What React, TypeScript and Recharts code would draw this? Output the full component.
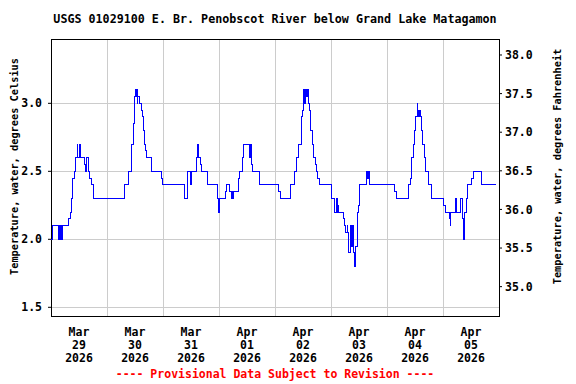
import React from "react";
import {
  CartesianGrid,
  Line,
  LineChart,
  ReferenceArea,
  XAxis,
  YAxis,
} from "recharts";

// change points of the 15-minute record, hours since Mar 29 00:00
const hours = [
  0, 0.6, 3.4, 3.7, 4.0, 4.3, 4.6, 4.9, 7.7, 8.2, 8.6, 9.0, 9.4, 9.9, 10.3, 10.7,
  11.2, 11.5, 12.0, 12.3, 12.6, 14.2, 14.6, 15.0, 15.9, 16.7, 17.2, 18.4,
  31.7, 33.4, 34.7, 35.2, 35.6, 36.0, 36.4, 36.7, 37.0, 37.2, 37.9, 38.7, 39.2,
  39.6, 40.0, 40.4, 40.9, 42.9, 47.2, 47.7,
  57.4, 58.3, 58.7, 59.6, 60.0, 62.3, 62.6, 63.4, 63.9, 64.3, 66.9, 71.2, 71.6,
  72.0, 74.6, 75.0, 76.7, 77.2, 77.5, 77.7, 78.0, 80.2, 80.6, 81.9, 82.7, 84.9,
  85.2, 85.4, 85.7, 86.0, 86.4, 89.2,
  97.7, 98.2, 102.6, 104.2, 105.0, 105.4, 105.9, 107.2, 107.6, 108.0, 108.3,
  108.6, 108.9, 109.2, 109.5, 109.8, 110.2, 110.6, 111.0, 111.4, 111.9, 112.7,
  113.2, 113.6, 114.4, 114.9,
  120.0, 120.4, 121.7, 122.5, 122.7, 123.0, 123.2, 125.2, 125.6, 126.4, 126.9,
  127.1, 127.3, 127.5, 127.7, 128.2, 128.4, 128.6, 129.0, 129.4, 129.6, 129.9,
  130.3, 130.7, 131.2, 131.6, 132.0, 132.4, 135.0, 135.4, 135.7, 136.0, 136.7,
  147.4, 147.9, 153.4, 153.9, 154.3, 154.7, 155.2, 155.6, 156.0, 156.4, 156.9,
  157.2, 157.4, 157.6, 157.9, 158.2, 158.6, 159.4, 159.9, 160.7, 161.6, 162.9,
  168.0, 168.9, 170.6, 171.0, 171.4, 173.2, 173.6, 175.7, 176.2, 176.6, 177.0,
  177.4, 177.9, 178.3, 178.7, 180.4, 180.9, 184.3, 184.7, 190.9,
];

const tempC = [
  2.0, 2.1, 2.0, 2.1, 2.0, 2.1, 2.0, 2.1, 2.15, 2.2, 2.3, 2.35, 2.45, 2.5, 2.55, 2.6,
  2.7, 2.6, 2.65, 2.7, 2.6, 2.55, 2.5, 2.6, 2.5, 2.45, 2.4, 2.3,
  2.4, 2.5, 2.7, 2.85, 3.05, 3.1, 3.05, 3.1, 3.0, 3.05, 3.0, 2.95, 2.9,
  2.8, 2.7, 2.65, 2.6, 2.5, 2.45, 2.4,
  2.3, 2.35, 2.5, 2.4, 2.5, 2.6, 2.7, 2.6, 2.55, 2.5, 2.4, 2.3, 2.2,
  2.3, 2.35, 2.4, 2.35, 2.3, 2.35, 2.3, 2.35, 2.45, 2.5, 2.6, 2.7, 2.6,
  2.7, 2.6, 2.7, 2.55, 2.5, 2.4,
  2.35, 2.3, 2.4, 2.5, 2.55, 2.6, 2.7, 2.9, 2.95, 3.1, 3.0,
  3.1, 3.0, 3.1, 3.05, 3.1, 3.0, 2.95, 2.9, 2.8, 2.7, 2.6,
  2.55, 2.5, 2.45, 2.4,
  2.35, 2.3, 2.2, 2.3, 2.2, 2.25, 2.2, 2.15, 2.1, 2.05, 2.1,
  2.05, 2.0, 2.05, 1.9, 2.05, 2.1, 1.95, 2.0, 2.1, 1.9, 1.8,
  1.85, 1.95, 2.2, 2.25, 2.35, 2.4, 2.45, 2.5, 2.45, 2.5, 2.4,
  2.35, 2.3, 2.4, 2.45, 2.5, 2.6, 2.7, 2.8, 2.85, 2.9, 3.0,
  2.9, 2.95, 2.9, 2.95, 2.9, 2.8, 2.7, 2.6, 2.5, 2.4, 2.3,
  2.25, 2.2, 2.15, 2.1, 2.2, 2.3, 2.2, 2.3, 2.15, 2.0, 2.1,
  2.2, 2.3, 2.35, 2.4, 2.45, 2.5, 2.45, 2.4, 2.4,
];

const months = ["Mar", "Mar", "Mar", "Apr", "Apr", "Apr", "Apr", "Apr"];
const days = ["29", "30", "31", "01", "02", "03", "04", "05"];
const years = ["2026", "2026", "2026", "2026", "2026", "2026", "2026", "2026"];
const labelHours = [12, 36, 60, 84, 108, 132, 156, 180];
const gridHours = [24, 48, 72, 96, 120, 144, 168];
const celsiusTicks = [1.5, 2.0, 2.5, 3.0];
const fahrenheitTicks = [35.0, 35.5, 36.0, 36.5, 37.0, 37.5, 38.0];
const celsiusDomain: [number, number] = [1.436, 3.473];
const fahrenheitDomain: [number, number] = [34.62, 38.207];
const hourDomain: [number, number] = [0, 192];

const data = hours.map((h, i) => ({ h, c: tempC[i] }));
const toF = (d: { c: number }) => d.c * 1.8 + 32;

const FONT = "'DejaVu Sans Mono', monospace";

function DayTick(props: any) {
  const { x, y, payload } = props;
  const i = labelHours.indexOf(payload.value);
  if (i < 0) return null;
  const style = { fontFamily: FONT, fontWeight: "bold", fontSize: 11.5 } as const;
  return (
    <text x={x} y={y} textAnchor="middle" fill="#000" style={style}>
      <tspan x={x} dy={18}>{months[i]}</tspan>
      <tspan x={x} dy={13}>{days[i]}</tspan>
      <tspan x={x} dy={13}>{years[i]}</tspan>
    </text>
  );
}

function SideTitle({ viewBox, text, dx }: any) {
  const cx = viewBox.x + dx;
  const cy = viewBox.y + viewBox.height / 2 - 11;
  return (
    <text
      x={cx}
      y={cy}
      transform={`rotate(-90, ${cx}, ${cy})`}
      textAnchor="middle"
      dominantBaseline="central"
      fill="#000"
      style={{ fontFamily: FONT, fontWeight: "bold", fontSize: 10.3 }}
    >
      {text}
    </text>
  );
}

export default function App() {
  const tickStyle = { fill: "#000", fontSize: 11.5, fontFamily: FONT, fontWeight: "bold" };
  return (
    <div style={{ position: "absolute", left: 0, top: 0, width: 576, height: 384, background: "#fff" }}>
      <LineChart
        width={576}
        height={384}
        data={data}
        margin={{ top: 39, right: 0, bottom: 0, left: 0 }}
      >
        <XAxis
          xAxisId="main"
          type="number"
          dataKey="h"
          domain={hourDomain}
          allowDataOverflow
          ticks={labelHours}
          height={68}
          axisLine={false}
          tickLine={false}
          tickSize={0}
          tick={<DayTick />}
          interval={0}
        />
        <XAxis
          xAxisId="grid"
          type="number"
          dataKey="h"
          domain={hourDomain}
          allowDataOverflow
          ticks={gridHours}
          height={0}
          hide
        />
        <YAxis
          yAxisId="c"
          type="number"
          domain={celsiusDomain}
          allowDataOverflow
          ticks={celsiusTicks}
          width={51}
          axisLine={false}
          tickLine={{ stroke: "#000" }}
          tickSize={3}
          tickMargin={6}
          tick={tickStyle}
          tickFormatter={(v: number) => v.toFixed(1)}
          interval={0}
          label={(p: any) => (
            <SideTitle {...p} dx={14} text="Temperature, water, degrees Celsius" />
          )}
        />
        <YAxis
          yAxisId="f"
          orientation="right"
          type="number"
          domain={fahrenheitDomain}
          allowDataOverflow
          ticks={fahrenheitTicks}
          width={77}
          axisLine={false}
          tickLine={{ stroke: "#000" }}
          tickSize={3}
          tickMargin={3}
          tick={tickStyle}
          tickFormatter={(v: number) => v.toFixed(1)}
          interval={0}
          label={(p: any) => (
            <SideTitle {...p} dx={58} text="Temperature, water, degrees Fahrenheit" />
          )}
        />
        <CartesianGrid
          xAxisId="grid"
          yAxisId="c"
          stroke="#cccccc"
          strokeWidth={1}
          shapeRendering="crispEdges"
        />
        {/* same record on the Fahrenheit scale, drawn invisibly so the right axis has data */}
        <Line
          xAxisId="main"
          yAxisId="f"
          type="stepAfter"
          dataKey={toF}
          stroke="none"
          dot={false}
          activeDot={false}
          isAnimationActive={false}
        />
        <Line
          xAxisId="main"
          yAxisId="c"
          type="stepAfter"
          dataKey="c"
          stroke="#0000ff"
          strokeWidth={1}
          dot={false}
          activeDot={false}
          isAnimationActive={false}
          shapeRendering="crispEdges"
        />
        <ReferenceArea
          xAxisId="main"
          yAxisId="c"
          x1={hourDomain[0]}
          x2={hourDomain[1]}
          y1={celsiusDomain[0]}
          y2={celsiusDomain[1]}
          fill="none"
          stroke="#000"
          strokeWidth={1}
          ifOverflow="visible"
          shapeRendering="crispEdges"
        />
      </LineChart>
      <svg
        width={576}
        height={384}
        style={{ position: "absolute", left: 0, top: 0, pointerEvents: "none" }}
      >
        <text
          x={275}
          y={23}
          textAnchor="middle"
          fill="#000"
          style={{ fontFamily: FONT, fontWeight: "bold", fontSize: 11.7 }}
        >
          USGS 01029100 E. Br. Penobscot River below Grand Lake Matagamon
        </text>
        <text
          x={275}
          y={378}
          textAnchor="middle"
          fill="#ff0000"
          style={{ fontFamily: FONT, fontWeight: "bold", fontSize: 11.5 }}
        >
          ---- Provisional Data Subject to Revision ----
        </text>
      </svg>
    </div>
  );
}
